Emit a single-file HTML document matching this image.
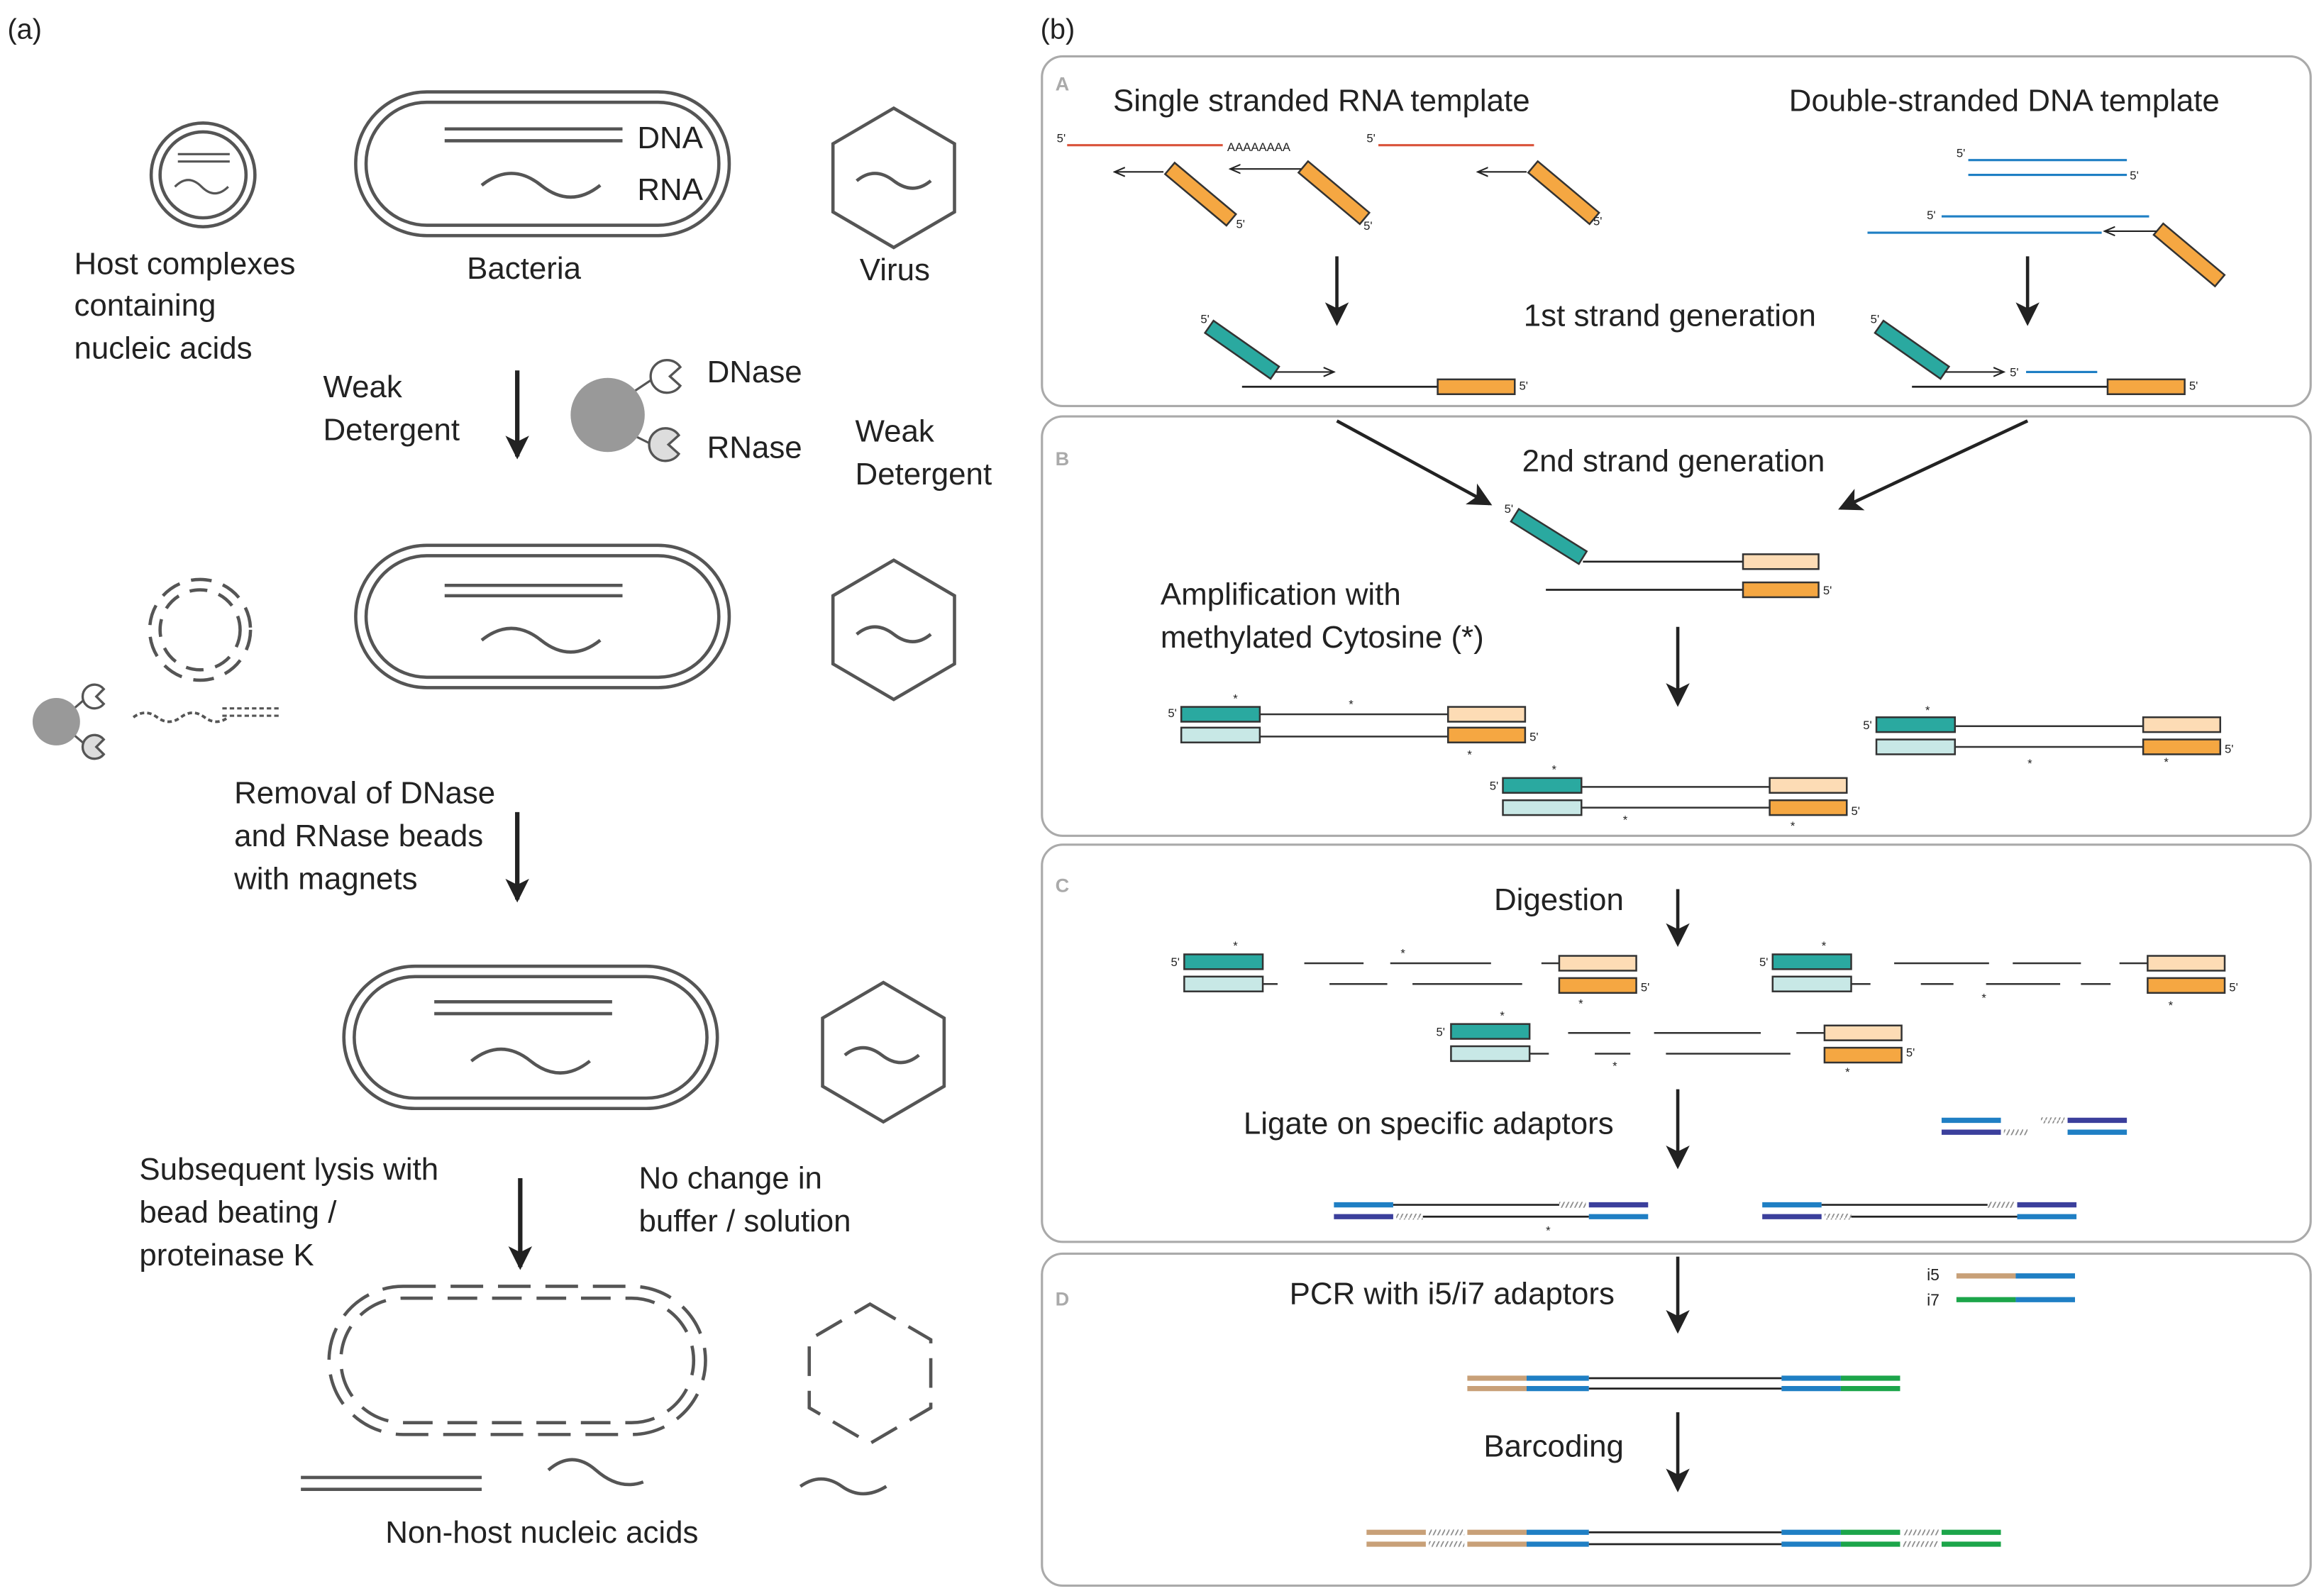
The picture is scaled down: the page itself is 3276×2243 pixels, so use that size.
<!DOCTYPE html>
<html><head><meta charset="utf-8"><style>
html,body{margin:0;padding:0;background:#fff;}
svg{display:block;}
text{font-family:"Liberation Sans",sans-serif;fill:#222;}
.t{font-size:21px;}
.s{font-size:8px;}
.L{font-size:13px;font-weight:bold;fill:#aaa;}
</style></head><body>
<svg width="3276" height="2243" viewBox="0 0 1568 1073.6" preserveAspectRatio="none" xmlns="http://www.w3.org/2000/svg">
<defs>
<marker id="ah" markerWidth="10" markerHeight="10" refX="8" refY="5" orient="auto" markerUnits="userSpaceOnUse"><path d="M0,1 L9,5 L0,9 Z" fill="#222"/></marker>
<marker id="ab" markerWidth="18" markerHeight="18" refX="14" refY="9" orient="auto" markerUnits="userSpaceOnUse"><path d="M0,1 L16,9 L0,17 L4,9 Z" fill="#222"/></marker>
<marker id="as" markerWidth="8" markerHeight="8" refX="7" refY="4" orient="auto" markerUnits="userSpaceOnUse"><path d="M0,1 L7,4 L0,7" fill="none" stroke="#222" stroke-width="1"/></marker>
<pattern id="hz" width="3" height="6" patternUnits="userSpaceOnUse"><path d="M0,6 L3,0" stroke="#888" stroke-width="0.8"/></pattern>
</defs>
<g fill="none" stroke="#555" stroke-width="2.2">
<circle cx="137" cy="118" r="35"/><circle cx="137" cy="118" r="29"/>
<path d="M120 104 H155 M120 109 H155" stroke-width="1.5"/>
<path d="M118 126 q9 -9 18 0 t18 0" stroke-width="1.5"/>
<rect x="240" y="62" width="252" height="97" rx="48"/><rect x="247" y="69" width="238" height="83" rx="41"/>
<path d="M300 87 H420 M300 95 H420"/>
<path d="M325 125 q20 -16 40 0 t40 0"/>
<path d="M603 73 L644 97 L644 143 L603 167 L562 143 L562 97 Z"/>
<path d="M578 122 q12 -10 25 0 t25 0"/>
<rect x="240" y="368" width="252" height="96" rx="48"/><rect x="247" y="375" width="238" height="82" rx="41"/>
<path d="M300 395 H420 M300 402 H420"/>
<path d="M325 432 q20 -16 40 0 t40 0"/>
<path d="M603 378 L644 402 L644 448 L603 472 L562 448 L562 402 Z"/>
<path d="M578 428 q12 -10 25 0 t25 0"/>
<circle cx="135" cy="425" r="34" stroke-dasharray="14 8"/><circle cx="135" cy="425" r="27" stroke-dasharray="12 8"/>
<path d="M90 484 q8 -6 16 0 t16 0 t16 0 t16 0" stroke-dasharray="3 2" stroke-width="1.8"/>
<path d="M150 478 H190 M150 483 H190" stroke-dasharray="3 2" stroke-width="1.5"/>
<rect x="232" y="652" width="252" height="96" rx="48"/><rect x="239" y="659" width="238" height="82" rx="41"/>
<path d="M293 676 H413 M293 684 H413"/>
<path d="M318 716 q20 -16 40 0 t40 0"/>
<path d="M596 663 L637 687 L637 733 L596 757 L555 733 L555 687 Z"/>
<path d="M570 712 q12 -10 25 0 t25 0"/>
<rect x="222" y="868" width="254" height="100" rx="50" stroke-dasharray="22 10"/><rect x="230" y="876" width="238" height="84" rx="42" stroke-dasharray="20 10"/>
<path d="M587 880 L628 904 L628 950 L587 974 L546 950 L546 904 Z" stroke-dasharray="20 10"/>
<path d="M203 997 H325 M203 1005 H325"/>
<path d="M370 992 q16 -14 32 0 t32 8"/>
<path d="M540 1003 q14 -10 28 0 t30 0"/>
</g>
<g stroke="#555" stroke-width="1.5">
<line x1="428" y1="264" x2="440" y2="256"/><line x1="428" y1="294" x2="440" y2="300"/>
<line x1="50" y1="478" x2="57" y2="472"/><line x1="50" y1="496" x2="57" y2="502"/>
</g>
<g fill="#999">
<circle cx="410" cy="280" r="25"/>
<circle cx="38" cy="487" r="16"/>
</g>
<g stroke="#555" stroke-width="1.6">
<path d="M459 247.7 A11 11 0 1 0 459 260.3 L452 254 Z" fill="#fff"/>
<path d="M458 293.7 A11 11 0 1 0 458 306.3 L451 300 Z" fill="#ddd"/>
<path d="M70 465 A8 8 0 1 0 70 475 L65 470 Z" fill="#fff"/>
<path d="M70 499 A8 8 0 1 0 70 509 L65 504 Z" fill="#ddd"/>
</g>
<g stroke="#222" stroke-width="3" marker-end="url(#ab)">
<line x1="349" y1="250" x2="349" y2="308"/>
<line x1="349" y1="548" x2="349" y2="607"/>
<line x1="351" y1="795" x2="351" y2="855"/>
</g>
<text x="5" y="26" class="t" style="font-size:19px">(a)</text>
<g class="t">
<text x="50" y="185">Host complexes</text><text x="50" y="213">containing</text><text x="50" y="242">nucleic acids</text>
<text x="430" y="100">DNA</text><text x="430" y="135">RNA</text>
<text x="315" y="188">Bacteria</text><text x="580" y="189">Virus</text>
<text x="218" y="268">Weak</text><text x="218" y="297">Detergent</text>
<text x="477" y="258">DNase</text><text x="477" y="309">RNase</text>
<text x="577" y="298">Weak</text><text x="577" y="327">Detergent</text>
<text x="158" y="542">Removal of DNase</text><text x="158" y="571">and RNase beads</text><text x="158" y="600">with magnets</text>
<text x="94" y="796">Subsequent lysis with</text><text x="94" y="825">bead beating /</text><text x="94" y="854">proteinase K</text>
<text x="431" y="802">No change in</text><text x="431" y="831">buffer / solution</text>
<text x="260" y="1041">Non-host nucleic acids</text>
</g>

<text x="702" y="26" class="t" style="font-size:19px">(b)</text>
<g fill="none" stroke="#aaa" stroke-width="1.5">
<rect x="703" y="38" width="856" height="236" rx="14"/>
<rect x="703" y="281" width="856" height="283" rx="14"/>
<rect x="703" y="570" width="856" height="268" rx="14"/>
<rect x="703" y="846" width="856" height="224" rx="14"/>
</g>
<text x="712" y="61" class="L">A</text><text x="712" y="314" class="L">B</text><text x="712" y="602" class="L">C</text><text x="712" y="881" class="L">D</text>
<g class="t">
<text x="751" y="75">Single stranded RNA template</text>
<text x="1207" y="75">Double-stranded DNA template</text>
<text x="1028" y="220">1st strand generation</text>
<text x="1027" y="318">2nd strand generation</text>
<text x="783" y="408">Amplification with</text><text x="783" y="437">methylated Cytosine (*)</text>
<text x="1008" y="614">Digestion</text>
<text x="839" y="765">Ligate on specific adaptors</text>
<text x="870" y="880">PCR with i5/i7 adaptors</text>
<text x="1001" y="983">Barcoding</text>
</g>
<g stroke="#d9533a" stroke-width="1.5"><line x1="720" y1="98" x2="825" y2="98"/><line x1="930" y1="98" x2="1035" y2="98"/></g>
<text x="828" y="102" class="s">AAAAAAAA</text>
<text x="713" y="96" class="s">5'</text><text x="922" y="96" class="s">5'</text>
<g stroke="#1f7fc4" stroke-width="1.5">
<line x1="1328" y1="108" x2="1435" y2="108"/><line x1="1328" y1="118" x2="1435" y2="118"/>
<line x1="1310" y1="146" x2="1450" y2="146"/><line x1="1260" y1="157" x2="1418" y2="157"/>
<line x1="1367" y1="251" x2="1415" y2="251"/>
</g>
<text x="1320" y="106" class="s">5'</text><text x="1437" y="121" class="s">5'</text><text x="1300" y="148" class="s">5'</text>
<g fill="#f5a742" stroke="#333" stroke-width="1.2">
<rect x="-27" y="-5" width="54" height="10" transform="translate(810,131) rotate(40)"/>
<rect x="-27" y="-5" width="54" height="10" transform="translate(900,130) rotate(40)"/>
<rect x="-27" y="-5" width="54" height="10" transform="translate(1055,130) rotate(40)"/>
<rect x="-27" y="-5" width="54" height="10" transform="translate(1477,172) rotate(40)"/>
</g>
<g fill="#2aa9a0" stroke="#333" stroke-width="1.2">
<rect x="-27" y="-5" width="54" height="10" transform="translate(838,236) rotate(35)"/>
<rect x="-27" y="-5" width="54" height="10" transform="translate(1290,236) rotate(35)"/>
<rect x="-27" y="-5" width="54" height="10" transform="translate(1045,362) rotate(32)"/>
</g>
<text x="834" y="154" class="s">5'</text><text x="920" y="155" class="s">5'</text><text x="1075" y="152" class="s">5'</text>
<text x="810" y="218" class="s">5'</text><text x="1262" y="218" class="s">5'</text><text x="1015" y="346" class="s">5'</text>
<g stroke="#222" stroke-width="1" marker-end="url(#as)">
<line x1="785" y1="116" x2="752" y2="116"/><line x1="878" y1="114" x2="830" y2="114"/><line x1="1030" y1="116" x2="997" y2="116"/>
<line x1="1455" y1="156" x2="1420" y2="156"/>
<line x1="860" y1="251" x2="900" y2="251"/><line x1="1312" y1="251" x2="1352" y2="251"/>
</g>
<text x="1356" y="254" class="s">5'</text>
<g stroke="#222" stroke-width="1.3">
<line x1="838" y1="261" x2="970" y2="261"/><line x1="1290" y1="261" x2="1422" y2="261"/>
<line x1="1068" y1="379" x2="1176" y2="379"/><line x1="1043" y1="398" x2="1176" y2="398"/>
</g>
<g stroke="#333" stroke-width="1.2">
<rect x="970" y="256" width="52" height="10" fill="#f5a742"/><rect x="1422" y="256" width="52" height="10" fill="#f5a742"/>
<rect x="1176" y="374" width="51" height="10" fill="#fddcb5"/><rect x="1176" y="393" width="51" height="10" fill="#f5a742"/>
</g>
<text x="1025" y="263" class="s">5'</text><text x="1477" y="263" class="s">5'</text><text x="1230" y="401" class="s">5'</text>
<g stroke="#222" stroke-width="2.2" marker-end="url(#ab)">
<line x1="902" y1="173" x2="902" y2="218"/><line x1="1368" y1="173" x2="1368" y2="218"/>
<line x1="902" y1="284" x2="1005" y2="340"/><line x1="1368" y1="284" x2="1242" y2="343"/>
<line x1="1132" y1="423" x2="1132" y2="475"/>
<line x1="1132" y1="600" x2="1132" y2="637"/>
<line x1="1132" y1="735" x2="1132" y2="787"/>
<line x1="1132" y1="848" x2="1132" y2="898"/>
<line x1="1132" y1="953" x2="1132" y2="1005"/>
</g>
<g stroke="#333" stroke-width="1.2">
<line x1="850" y1="482" x2="977" y2="482"/><line x1="850" y1="497" x2="977" y2="497"/>
<rect x="797" y="477" width="53" height="10" fill="#2aa9a0"/><rect x="977" y="477" width="52" height="10" fill="#fddcb5"/>
<rect x="797" y="491" width="53" height="10" fill="#c8e8e6"/><rect x="977" y="491" width="52" height="10" fill="#f5a742"/>
<line x1="1067" y1="531" x2="1194" y2="531"/><line x1="1067" y1="545" x2="1194" y2="545"/>
<rect x="1014" y="525" width="53" height="10" fill="#2aa9a0"/><rect x="1194" y="525" width="52" height="10" fill="#fddcb5"/>
<rect x="1014" y="540" width="53" height="10" fill="#c8e8e6"/><rect x="1194" y="540" width="52" height="10" fill="#f5a742"/>
<line x1="1319" y1="490" x2="1446" y2="490"/><line x1="1319" y1="504" x2="1446" y2="504"/>
<rect x="1266" y="484" width="53" height="10" fill="#2aa9a0"/><rect x="1446" y="484" width="52" height="10" fill="#fddcb5"/>
<rect x="1266" y="499" width="53" height="10" fill="#c8e8e6"/><rect x="1446" y="499" width="52" height="10" fill="#f5a742"/>
</g>
<g class="s"><text x="788" y="484">5'</text><text x="1032" y="500">5'</text><text x="1005" y="533">5'</text><text x="1249" y="550">5'</text><text x="1257" y="492">5'</text><text x="1501" y="508">5'</text>
<text x="832" y="474">*</text><text x="910" y="478">*</text><text x="990" y="512">*</text><text x="1047" y="522">*</text><text x="1095" y="556">*</text><text x="1208" y="560">*</text><text x="1299" y="482">*</text><text x="1368" y="518">*</text><text x="1460" y="517">*</text></g>
<g stroke="#333" stroke-width="1.2">
<rect x="799" y="644" width="53" height="10" fill="#2aa9a0"/><rect x="799" y="659" width="53" height="10" fill="#c8e8e6"/>
<rect x="1052" y="645" width="52" height="10" fill="#fddcb5"/><rect x="1052" y="660" width="52" height="10" fill="#f5a742"/>
<path d="M852 664 H862 M880 650 H920 M938 650 H1006 M1040 650 H1052 M897 664 H936 M953 664 H1027"/>
<rect x="1196" y="644" width="53" height="10" fill="#2aa9a0"/><rect x="1196" y="659" width="53" height="10" fill="#c8e8e6"/>
<rect x="1449" y="645" width="52" height="10" fill="#fddcb5"/><rect x="1449" y="660" width="52" height="10" fill="#f5a742"/>
<path d="M1249 664 H1262 M1278 650 H1342 M1358 650 H1404 M1430 650 H1449 M1296 664 H1318 M1340 664 H1390 M1404 664 H1424"/>
<rect x="979" y="691" width="53" height="10" fill="#2aa9a0"/><rect x="979" y="706" width="53" height="10" fill="#c8e8e6"/>
<rect x="1231" y="692" width="52" height="10" fill="#fddcb5"/><rect x="1231" y="707" width="52" height="10" fill="#f5a742"/>
<path d="M1032 711 H1045 M1058 697 H1100 M1116 697 H1188 M1212 697 H1231 M1076 711 H1100 M1124 711 H1208"/>
</g>
<g class="s"><text x="790" y="652">5'</text><text x="1107" y="669">5'</text><text x="1187" y="652">5'</text><text x="1504" y="669">5'</text><text x="969" y="699">5'</text><text x="1286" y="713">5'</text>
<text x="832" y="641">*</text><text x="945" y="646">*</text><text x="1065" y="680">*</text><text x="1229" y="641">*</text><text x="1337" y="676">*</text><text x="1463" y="681">*</text><text x="1012" y="688">*</text><text x="1088" y="722">*</text><text x="1245" y="726">*</text></g>
<g stroke-width="3.5">
<line x1="1310" y1="756" x2="1350" y2="756" stroke="#1f7fc4"/><line x1="1310" y1="764" x2="1350" y2="764" stroke="#3b3f9c"/>
<line x1="1395" y1="756" x2="1435" y2="756" stroke="#3b3f9c"/><line x1="1395" y1="764" x2="1435" y2="764" stroke="#1f7fc4"/>
<line x1="900" y1="813" x2="940" y2="813" stroke="#1f7fc4"/><line x1="900" y1="821" x2="940" y2="821" stroke="#3b3f9c"/>
<line x1="1072" y1="813" x2="1112" y2="813" stroke="#3b3f9c"/><line x1="1072" y1="821" x2="1112" y2="821" stroke="#1f7fc4"/>
<line x1="1189" y1="813" x2="1229" y2="813" stroke="#1f7fc4"/><line x1="1189" y1="821" x2="1229" y2="821" stroke="#3b3f9c"/>
<line x1="1361" y1="813" x2="1401" y2="813" stroke="#3b3f9c"/><line x1="1361" y1="821" x2="1401" y2="821" stroke="#1f7fc4"/>
</g>
<g fill="url(#hz)"><rect x="1352" y="762" width="16" height="4"/><rect x="1377" y="754" width="16" height="4"/>
<rect x="942" y="819" width="18" height="4"/><rect x="1052" y="811" width="18" height="4"/>
<rect x="1231" y="819" width="18" height="4"/><rect x="1341" y="811" width="18" height="4"/></g>
<g stroke="#222" stroke-width="1.3"><path d="M940 813 H1052 M960 821 H1072 M1229 813 H1341 M1249 821 H1361"/></g>
<text x="1043" y="833" class="s">*</text>
<text x="1300" y="864" class="s" style="font-size:11px">i5</text><text x="1300" y="881" class="s" style="font-size:11px">i7</text>
<g stroke-width="3.5">
<line x1="1320" y1="861" x2="1360" y2="861" stroke="#c8a078"/><line x1="1360" y1="861" x2="1400" y2="861" stroke="#1f7fc4"/>
<line x1="1320" y1="877" x2="1360" y2="877" stroke="#1ca54a"/><line x1="1360" y1="877" x2="1400" y2="877" stroke="#1f7fc4"/>
<path d="M990 930 H1030 M990 937 H1030 M922 1034 H962 M922 1042 H962 M990 1034 H1030 M990 1042 H1030" stroke="#c8a078"/>
<path d="M1030 930 H1072 M1030 937 H1072 M1202 930 H1242 M1202 937 H1242 M1030 1034 H1072 M1030 1042 H1072 M1202 1034 H1242 M1202 1042 H1242" stroke="#1f7fc4"/>
<path d="M1242 930 H1282 M1242 937 H1282 M1242 1034 H1282 M1242 1042 H1282 M1310 1034 H1350 M1310 1042 H1350" stroke="#1ca54a"/>
</g>
<g stroke="#222" stroke-width="1.3"><path d="M1072 930 H1202 M1072 937 H1202 M1072 1034 H1202 M1072 1042 H1202"/></g>
<g fill="url(#hz)"><rect x="964" y="1032" width="24" height="4"/><rect x="964" y="1040" width="24" height="4"/><rect x="1284" y="1032" width="24" height="4"/><rect x="1284" y="1040" width="24" height="4"/></g>
</svg>
</body></html>
